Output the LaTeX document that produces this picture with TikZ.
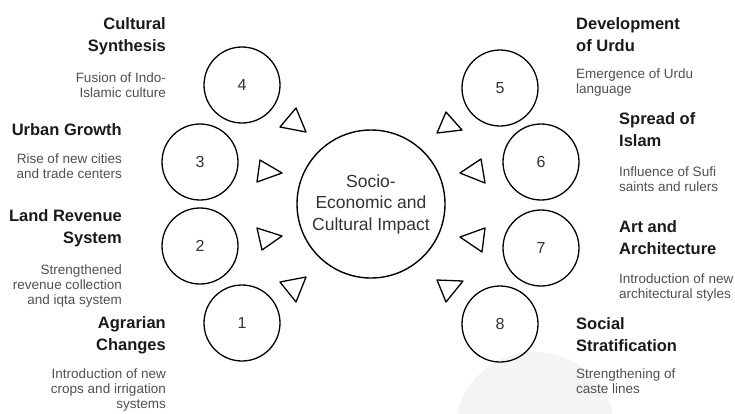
\documentclass[tikz,border=0pt]{standalone}
\usepackage{fontspec}
\setmainfont{Liberation Sans}
\definecolor{titlec}{HTML}{1A1A1A}
\definecolor{descc}{HTML}{505050}
\definecolor{numc}{HTML}{333333}
\definecolor{ghost}{HTML}{F4F4F4}
\begin{document}
\begin{tikzpicture}[x=1pt,y=-1pt,
  num/.style={circle,draw=black,line width=1.3pt,minimum size=76pt,inner sep=0pt,font=\fontsize{16}{19}\selectfont,text=numc},
  hub/.style={circle,draw=black,line width=1.4pt,minimum size=148pt,inner sep=0pt,align=center,font=\fontsize{17.5}{21.5}\selectfont,text=numc},
  ttl/.style={inner sep=0pt,font=\fontsize{16.5}{22}\selectfont\bfseries,text=titlec},
  dsc/.style={inner sep=0pt,font=\fontsize{13.5}{15}\selectfont,text=descc},
  tri/.style={draw=black,line width=1.3pt,fill=white,line join=round}]
\useasboundingbox[fill=white] (0,0) rectangle (735,413);
\begin{scope}
  \clip (0,0) rectangle (735,413);
  \fill[ghost] (535,432) circle[radius=80];
\end{scope}

% hub
\node[hub] (hub) at (371,204) {\rule{0pt}{10pt}Socio-\\Economic and\\Cultural Impact};

% numbered circles
\node[num] (c4) at (242,85) {4};
\node[num] (c3) at (200,162) {3};
\node[num] (c2) at (200,246) {2};
\node[num] (c1) at (242,323) {1};
\node[num] (c5) at (500,88) {5};
\node[num] (c6) at (541,162) {6};
\node[num] (c7) at (541,248) {7};
\node[num] (c8) at (500,324) {8};

% triangles
\draw[tri] (280,127) -- (296,108) -- (306,132) -- cycle;
\draw[tri] (260,160) -- (257,182) -- (282,173) -- cycle;
\draw[tri] (257,228) -- (262,250) -- (282,236) -- cycle;
\draw[tri] (280,282) -- (306,277) -- (296,302) -- cycle;
\draw[tri] (446,112) -- (437,133) -- (462,130) -- cycle;
\draw[tri] (460,173) -- (481,159) -- (485,183) -- cycle;
\draw[tri] (460,237) -- (485,228) -- (482,252) -- cycle;
\draw[tri] (437,280) -- (463,281) -- (446,302) -- cycle;

% left labels (base anchor = last line baseline)
\node[ttl,anchor=base east,align=right] (t4) at (166,51) {Cultural\\Synthesis};
\node[dsc,anchor=base east,align=right] (d4) at (166,97) {Fusion of Indo-\\Islamic culture};
\node[ttl,anchor=base east,align=right] (t3) at (122,135) {Urban Growth};
\node[dsc,anchor=base east,align=right] (d3) at (122,178) {Rise of new cities\\and trade centers};
\node[ttl,anchor=base east,align=right] (t2) at (122,243) {Land Revenue\\System};
\node[dsc,anchor=base east,align=right] (d2) at (122,304) {Strengthened\\revenue collection\\and iqta system};
\node[ttl,anchor=base east,align=right] (t1) at (166,350) {Agrarian\\Changes};
\node[dsc,anchor=base east,align=right] (d1) at (166,408) {Introduction of new\\crops and irrigation\\systems};

% right labels
\node[ttl,anchor=base west,align=left] (t5) at (576,51) {Development\\of Urdu};
\node[dsc,anchor=base west,align=left] (d5) at (576,93) {Emergence of Urdu\\language};
\node[ttl,anchor=base west,align=left] (t6) at (619,146) {Spread of\\Islam};
\node[dsc,anchor=base west,align=left] (d6) at (619,191) {Influence of Sufi\\saints and rulers};
\node[ttl,anchor=base west,align=left] (t7) at (619,254) {Art and\\Architecture};
\node[dsc,anchor=base west,align=left] (d7) at (619,298) {Introduction of new\\architectural styles};
\node[ttl,anchor=base west,align=left] (t8) at (576,351) {Social\\Stratification};
\node[dsc,anchor=base west,align=left] (d8) at (576,393) {Strengthening of\\caste lines};
\end{tikzpicture}
\end{document}
